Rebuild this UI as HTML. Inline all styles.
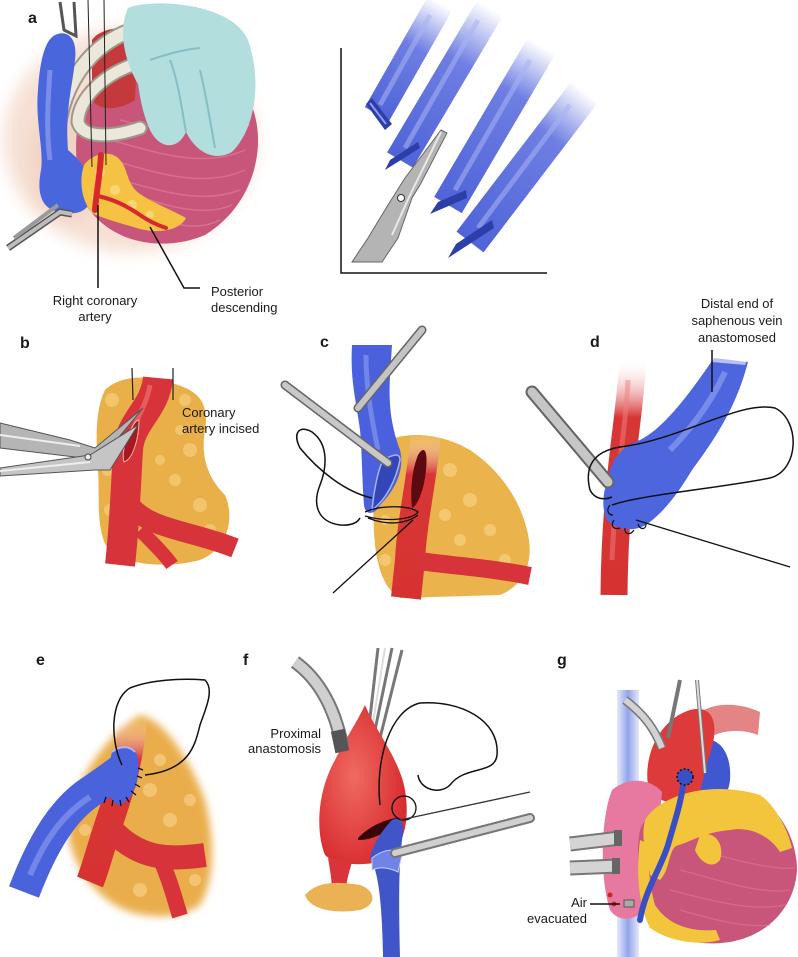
<!DOCTYPE html>
<html><head><meta charset="utf-8"><style>
html,body{margin:0;padding:0;background:#fff;}
svg{display:block;}
text{font-family:"Liberation Sans",Arial,sans-serif;fill:#1a1a1a;}
.lb{font-weight:bold;font-size:16px;}
.t{font-size:13px;}
</style></head><body>
<svg width="798" height="957" viewBox="0 0 798 957" xmlns="http://www.w3.org/2000/svg">
<defs>
<filter id="b8" x="-50%" y="-50%" width="200%" height="200%"><feGaussianBlur stdDeviation="8"/></filter>
<filter id="b4" x="-30%" y="-30%" width="160%" height="160%"><feGaussianBlur stdDeviation="4"/></filter>
<filter id="b2" x="-30%" y="-30%" width="160%" height="160%"><feGaussianBlur stdDeviation="2"/></filter>
<linearGradient id="v1" gradientUnits="userSpaceOnUse" x1="377" y1="114" x2="440" y2="3"><stop offset="0" stop-color="#5064d8"/><stop offset="0.6" stop-color="#6e7ee2"/><stop offset="1" stop-color="#fff"/></linearGradient>
<linearGradient id="v2" gradientUnits="userSpaceOnUse" x1="400" y1="160" x2="490" y2="8"><stop offset="0" stop-color="#5064d8"/><stop offset="0.65" stop-color="#6e7ee2"/><stop offset="1" stop-color="#fff"/></linearGradient>
<linearGradient id="v3" gradientUnits="userSpaceOnUse" x1="448" y1="205" x2="540" y2="45"><stop offset="0" stop-color="#5064d8"/><stop offset="0.7" stop-color="#6e7ee2"/><stop offset="1" stop-color="#fff"/></linearGradient>
<linearGradient id="v4" gradientUnits="userSpaceOnUse" x1="470" y1="242" x2="585" y2="92"><stop offset="0" stop-color="#5064d8"/><stop offset="0.7" stop-color="#6e7ee2"/><stop offset="1" stop-color="#fff"/></linearGradient>
<linearGradient id="fadeTopRed" x1="0" y1="0" x2="0" y2="1"><stop offset="0" stop-color="#fff" stop-opacity="0"/><stop offset="0.25" stop-color="#d83636"/><stop offset="1" stop-color="#d63232"/></linearGradient>
<linearGradient id="svc" x1="0" y1="0" x2="1" y2="0"><stop offset="0" stop-color="#dfe6fb"/><stop offset="0.5" stop-color="#7f94e6"/><stop offset="1" stop-color="#dfe6fb"/></linearGradient>
<radialGradient id="aoF" cx="0.4" cy="0.45" r="0.6"><stop offset="0" stop-color="#f06a62"/><stop offset="1" stop-color="#d72c30"/></radialGradient>
</defs>

<!-- ================= PANEL A ================= -->
<ellipse cx="130" cy="140" rx="126" ry="112" fill="#f6e0d4" filter="url(#b8)"/>
<ellipse cx="70" cy="160" rx="40" ry="60" fill="#efcbb9" filter="url(#b8)" opacity="0.6"/>
<!-- heart -->
<path d="M78 120 C88 68 190 50 240 85 C272 125 262 200 205 235 C165 252 112 245 86 205 C76 180 74 150 78 120Z" fill="#c8567a"/>
<g stroke="#e4809e" stroke-width="1.5" fill="none" opacity="0.6">
<path d="M110 140 C150 150 200 170 245 150"/><path d="M110 160 C150 170 200 190 245 170"/><path d="M120 180 C160 190 200 205 240 190"/><path d="M150 200 C180 210 210 215 232 205"/><path d="M120 120 C160 130 210 140 250 125"/><path d="M160 220 C185 228 205 228 220 220"/>
</g>
<!-- red behind -->
<path d="M92 40 C100 28 125 25 138 32 L135 100 C120 110 100 112 92 100 Z" fill="#c43a3c"/>
<!-- white tubes -->
<g fill="none" stroke-linecap="round">
<path d="M140 28 C90 40 55 90 57 152" stroke="#9d988a" stroke-width="17"/>
<path d="M140 28 C90 40 55 90 57 152" stroke="#ebe7db" stroke-width="13"/>
<path d="M142 62 C105 72 78 98 78 122 C82 138 110 138 140 128" stroke="#9d988a" stroke-width="15"/>
<path d="M142 62 C105 72 78 98 78 122 C82 138 110 138 140 128" stroke="#ebe7db" stroke-width="11"/>
</g>
<!-- forceps top -->
<path d="M60 2 L64 30 L76 36 L74 2" fill="none" stroke="#555" stroke-width="3"/>
<!-- blue vein a -->
<path d="M55 35 C65 30 78 35 75 60 C72 90 65 110 68 150 C80 160 92 172 90 200 C88 214 70 216 55 211 C40 206 37 190 41 170 C44 150 35 120 38 90 C40 60 45 40 55 35 Z" fill="#4a66dc"/>
<path d="M50 70 C48 100 46 130 50 160" stroke="#8da0f0" stroke-width="5" fill="none" opacity="0.7"/>
<!-- glove -->
<path d="M128 8 C150 -2 232 2 248 40 C262 80 256 128 232 152 C214 162 196 152 186 132 C178 150 160 150 150 130 C142 112 140 96 138 84 C124 60 118 30 128 8 Z" fill="#b3dede"/>
<g stroke="#86bfc2" stroke-width="2" fill="none">
<path d="M186 132 C182 110 178 80 170 60"/><path d="M215 148 C210 120 205 90 200 70"/><path d="M150 60 C165 55 180 50 200 48"/>
</g>
<!-- fat -->
<path d="M84 165 C94 152 112 150 120 160 C128 168 126 184 140 194 C155 204 172 210 186 218 C180 230 160 234 140 229 C120 223 104 219 92 213 C81 200 79 180 84 165 Z" fill="#f5c244"/>
<g fill="#fbdb80" opacity="0.8"><circle cx="100" cy="172" r="5"/><circle cx="115" cy="190" r="5"/><circle cx="132" cy="205" r="5"/><circle cx="150" cy="215" r="4"/><circle cx="96" cy="198" r="4"/></g>
<!-- RCA -->
<path d="M101 155 C100 175 96 195 95 210" stroke="#d8282c" stroke-width="6" fill="none" stroke-linecap="round"/>
<path d="M98 196 C115 200 125 205 140 215 C150 222 160 226 166 228" stroke="#d8282c" stroke-width="4" fill="none" stroke-linecap="round"/>
<!-- sutures -->
<path d="M88 0 L92 167 M104 0 L106 165" stroke="#222" stroke-width="1"/>
<!-- forceps bottom -->
<path d="M8 248 L60 212 L72 214" stroke="#555" stroke-width="7" fill="none"/>
<path d="M8 248 L60 212 L72 214" stroke="#bdbdbd" stroke-width="4" fill="none"/>
<path d="M14 238 L58 205" stroke="#9a9a9a" stroke-width="4" fill="none"/>
<!-- labels -->
<path d="M98 205 L98 288" stroke="#111" stroke-width="1.5"/>
<path d="M150 227 L184 288 L200 288" stroke="#111" stroke-width="1.5" fill="none"/>
<text class="lb" x="28" y="23">a</text>
<text class="t" x="95" y="305" text-anchor="middle">Right coronary</text>
<text class="t" x="95" y="321" text-anchor="middle">artery</text>
<text class="t" x="211" y="296">Posterior</text>
<text class="t" x="211" y="312">descending</text>

<!-- ================= PANEL TOP RIGHT ================= -->
<path d="M341 48 L341 273 L547 273" stroke="#111" stroke-width="1.5" fill="none"/>
<g fill="none" stroke-linecap="butt">
<path d="M377 114 L442 0" stroke="url(#v1)" stroke-width="28"/>
<path d="M400 160 L492 5" stroke="url(#v2)" stroke-width="30"/>
<path d="M448 205 L545 40" stroke="url(#v3)" stroke-width="32"/>
<path d="M470 242 L590 85" stroke="url(#v4)" stroke-width="34"/>
</g>
<g stroke="#aab4f4" stroke-width="5" fill="none" opacity="0.55">
<path d="M380 105 L430 15"/><path d="M405 148 L478 20"/><path d="M455 190 L530 60"/><path d="M478 228 L570 105"/>
</g>
<!-- cut ends -->
<path d="M366 104 L385 130 L392 124 L372 98 Z" fill="#2e3ea8"/>
<path d="M370 103 L386 124" stroke="#8e9cf0" stroke-width="2"/>
<path d="M385 170 L420 148 L418 142 L390 160 Z" fill="#2e3ea8"/>
<path d="M430 214 L467 198 L466 190 L438 202 Z" fill="#2e3ea8"/>
<path d="M448 258 L494 228 L492 220 L456 244 Z" fill="#2e3ea8"/>
<!-- scissors -->
<path d="M441 130 L447 133 L420 185 L412 198 L398 238 L382 262 L352 262 L368 238 L388 205 L405 178 Z" fill="#b4b4b4" stroke="#666" stroke-width="1"/>
<path d="M441 132 L410 195 L392 235" stroke="#e8e8e8" stroke-width="2" fill="none"/>
<circle cx="401" cy="198" r="3.5" fill="#fff" stroke="#333" stroke-width="1"/>

<!-- ================= PANEL B ================= -->
<path d="M105 390 C120 375 150 374 175 384 C195 390 210 400 205 430 C200 460 210 480 225 495 C236 520 226 550 200 560 C170 568 130 566 110 552 C95 532 100 500 98 470 C96 440 95 410 105 390 Z" fill="#e9b04a"/>
<g fill="#f6cd78" opacity="0.75">
<circle cx="112" cy="400" r="7"/><circle cx="125" cy="430" r="6"/><circle cx="108" cy="470" r="6"/><circle cx="110" cy="510" r="6"/><circle cx="185" cy="400" r="6"/><circle cx="190" cy="450" r="7"/><circle cx="175" cy="480" r="6"/><circle cx="200" cy="505" r="7"/><circle cx="180" cy="430" r="5"/><circle cx="210" cy="530" r="6"/><circle cx="160" cy="460" r="5"/>
</g>
<path d="M158 378 C155 410 130 420 128 450 C126 480 125 520 120 565" stroke="#d6333a" stroke-width="30" fill="none"/>
<path d="M130 505 C150 530 190 530 235 548" stroke="#d6333a" stroke-width="20" fill="none"/>
<path d="M140 530 C155 545 165 555 172 565" stroke="#d6333a" stroke-width="14" fill="none"/>
<path d="M150 385 C146 410 130 425 128 450" stroke="#f07878" stroke-width="5" fill="none" opacity="0.6"/>
<!-- incision -->
<path d="M128 438 C132 425 136 420 139 420 C139 440 132 460 124 462 C122 455 124 445 128 438 Z" fill="#a81820" stroke="#f6b0b0" stroke-width="1"/>
<!-- sutures -->
<path d="M132 368 L133 400 M173 368 L173 400" stroke="#222" stroke-width="1.2"/>
<!-- scissors b -->
<path d="M0 423 L70 440 L95 448 L143 408 L100 460 L0 448 Z" fill="#b5b5b5" stroke="#555" stroke-width="1"/>
<path d="M0 468 L90 455 L138 425 L110 470 L95 470 L0 476 Z" fill="#c5c5c5" stroke="#555" stroke-width="1"/>
<path d="M0 435 L80 446" stroke="#eee" stroke-width="2"/>
<path d="M0 471 L90 462" stroke="#eee" stroke-width="2"/>
<circle cx="88" cy="457" r="3" fill="#eee" stroke="#444" stroke-width="1"/>
<text class="lb" x="20" y="348">b</text>
<text class="t" x="182" y="417">Coronary</text>
<text class="t" x="182" y="433">artery incised</text>

<!-- ================= PANEL C ================= -->
<path d="M380 445 C400 430 440 432 470 450 C500 470 520 500 527 530 C535 560 525 585 500 595 L400 598 C385 590 378 570 375 545 C372 510 372 470 380 445 Z" fill="#ebb34c"/>
<g fill="#f7cf7c" opacity="0.75">
<circle cx="450" cy="470" r="7"/><circle cx="470" cy="500" r="7"/><circle cx="445" cy="515" r="6"/><circle cx="490" cy="530" r="6"/><circle cx="460" cy="540" r="6"/><circle cx="385" cy="560" r="6"/><circle cx="385" cy="520" r="5"/><circle cx="505" cy="560" r="6"/>
</g>
<path d="M426 433 C422 480 412 520 410 560 L406 598" stroke="url(#fadeTopRed)" stroke-width="30" fill="none"/>
<path d="M414 560 C440 565 480 566 530 576" stroke="#d6333a" stroke-width="18" fill="none"/>
<path d="M418 455 C424 445 428 450 426 470 C424 490 418 505 412 508 C410 490 412 470 418 455 Z" fill="#5a0a10"/>
<!-- blue vein c -->
<path d="M352 345 L392 345 C390 380 385 410 400 450 C405 470 395 490 380 505 C375 515 365 516 364 505 C362 480 362 450 360 430 C356 400 350 380 352 345 Z" fill="#4a60dc"/>
<path d="M366 355 C366 390 372 420 378 450" stroke="#8e9ff0" stroke-width="5" fill="none" opacity="0.6"/>
<path d="M383 460 C392 455 400 452 400 460 C396 480 386 500 372 510 C374 490 378 470 383 460 Z" fill="#3346b8" stroke="#a6b2f4" stroke-width="1.5"/>
<!-- forceps c -->
<path d="M422 330 L358 408" stroke="#666" stroke-width="9" stroke-linecap="round"/>
<path d="M422 330 L358 408" stroke="#c4c4c4" stroke-width="6" stroke-linecap="round"/>
<path d="M285 385 L388 463" stroke="#666" stroke-width="9" stroke-linecap="round"/>
<path d="M285 385 L388 463" stroke="#c8c8c8" stroke-width="6" stroke-linecap="round"/>
<!-- suture c -->
<path d="M372 498 C345 492 318 470 300 448 C292 432 300 425 312 432 C330 445 326 470 320 485 C312 505 318 522 340 525 C352 526 358 522 360 518" stroke="#111" stroke-width="1.5" fill="none"/>
<path d="M365 512 C380 505 410 505 418 512 C412 520 385 522 365 516 M368 518 C385 525 405 525 418 515" stroke="#111" stroke-width="1.3" fill="none"/>
<path d="M413 520 L333 593" stroke="#111" stroke-width="1.3"/>
<text class="lb" x="320" y="347">c</text>

<!-- ================= PANEL D ================= -->
<path d="M633 358 C630 420 615 480 614 595" stroke="url(#fadeTopRed)" stroke-width="27" fill="none"/>
<path d="M628 380 C626 430 615 480 612 560" stroke="#f08080" stroke-width="5" fill="none" opacity="0.5"/>
<path d="M714 358 L748 362 C738 400 722 430 692 470 C677 495 665 510 650 522 C638 532 618 532 607 520 C600 505 604 490 610 470 C615 455 625 445 640 440 C660 430 682 405 714 358 Z" fill="#4d66de"/>
<path d="M725 372 C712 400 695 425 670 450" stroke="#94a4f2" stroke-width="6" fill="none" opacity="0.6"/>
<path d="M700 352 L750 352 L745 365 L712 362 Z" fill="#fff" opacity="0.6"/>
<!-- stitches d -->
<g stroke="#111" stroke-width="1.2" fill="none">
<path d="M610 505 C606 510 608 515 613 515"/><path d="M614 520 C610 526 614 530 620 528"/><path d="M625 528 C624 534 630 536 634 530"/><path d="M638 524 C640 530 646 530 646 524"/>
</g>
<!-- forceps d -->
<path d="M532 392 L608 482" stroke="#666" stroke-width="13" stroke-linecap="round"/>
<path d="M532 392 L608 482" stroke="#c6c6c6" stroke-width="9" stroke-linecap="round"/>
<!-- suture d -->
<path d="M612 505 C640 495 720 488 770 478 C800 470 800 420 775 408 C740 400 680 440 620 447 C590 452 585 470 590 490 C595 500 605 500 612 497" stroke="#111" stroke-width="1.5" fill="none"/>
<path d="M636 520 L790 567" stroke="#111" stroke-width="1.3"/>
<path d="M712 350 L712 392" stroke="#111" stroke-width="1.5"/>
<text class="lb" x="590" y="347">d</text>
<text class="t" x="737" y="308" text-anchor="middle">Distal end of</text>
<text class="t" x="737" y="325" text-anchor="middle">saphenous vein</text>
<text class="t" x="737" y="342" text-anchor="middle">anastomosed</text>

<!-- ================= PANEL E ================= -->
<path d="M140 715 C165 720 190 760 205 800 C215 840 215 880 200 905 C180 920 140 920 115 905 C90 890 70 860 68 830 C70 790 100 740 140 715Z" fill="#eaad4c" filter="url(#b4)"/>
<g fill="#f6cf86" opacity="0.7">
<circle cx="150" cy="790" r="7"/><circle cx="170" cy="820" r="7"/><circle cx="190" cy="800" r="6"/><circle cx="160" cy="760" r="6"/><circle cx="85" cy="830" r="6"/><circle cx="100" cy="800" r="6"/><circle cx="140" cy="890" r="7"/><circle cx="195" cy="880" r="6"/>
</g>
<path d="M133 718 C130 760 120 790 110 820 C100 850 95 870 90 882" stroke="url(#fadeTopRed)" stroke-width="28" fill="none"/>
<path d="M112 830 C140 860 170 860 205 855" stroke="#d6333a" stroke-width="24" fill="none"/>
<path d="M160 858 C170 880 175 900 180 916" stroke="#d6333a" stroke-width="16" fill="none"/>
<path d="M24 892 C40 850 60 812 90 792 C105 782 118 772 128 765" stroke="#4a62dc" stroke-width="32" fill="none"/>
<path d="M30 875 C45 840 62 815 90 797" stroke="#8fa0f0" stroke-width="6" fill="none" opacity="0.6"/>
<path d="M112 752 C125 745 138 748 138 760 C140 780 135 800 118 805 C108 800 105 780 112 752 Z" fill="#4a62dc"/>
<path d="M112 752 C120 745 130 746 135 752" stroke="#a9b6f6" stroke-width="2" fill="none"/>
<g stroke="#111" stroke-width="1.3"><path d="M138 768 L143 770 M137 776 L142 778 M135 784 L140 787 M131 791 L136 795 M126 797 L129 802 M120 800 L121 806 M113 800 L112 806 M106 797 L104 803"/></g>
<path d="M122 765 C110 740 110 700 130 688 C150 680 180 678 205 680 C215 690 205 710 200 725 C195 745 190 770 145 775" stroke="#111" stroke-width="1.5" fill="none"/>
<text class="lb" x="36" y="665">e</text>

<!-- ================= PANEL F ================= -->
<path d="M378 648 L368 735 M392 648 L374 735 M402 650 L380 738" stroke="#777" stroke-width="3"/>
<path d="M385 648 L371 735" stroke="#ddd" stroke-width="2"/>
<path d="M365 705 C375 730 400 760 405 790 C410 820 405 850 380 862 C360 866 335 865 325 855 C315 830 318 790 335 760 C345 740 358 720 365 705 Z" fill="url(#aoF)"/>
<path d="M328 858 C330 870 332 880 332 892 L346 892 C346 880 350 870 352 862 Z" fill="#d8343a"/>
<path d="M305 895 C318 880 340 882 360 885 C375 890 378 905 360 910 C335 914 310 910 305 895 Z" fill="#eab155"/>
<path d="M295 662 C320 680 335 710 342 745" stroke="#777" stroke-width="14" fill="none"/>
<path d="M295 662 C320 680 335 710 342 745" stroke="#cfcfcf" stroke-width="10" fill="none"/>
<rect x="333" y="730" width="14" height="22" fill="#555" transform="rotate(-12 340 741)"/>
<path d="M358 838 C370 825 390 818 398 818 C392 830 375 840 358 840 Z" fill="#3a0508"/>
<path d="M392 820 C402 815 405 825 402 840 C400 860 398 880 400 957 L383 957 C382 900 378 870 370 858 C372 845 384 828 392 820 Z" fill="#3f55c8"/>
<path d="M372 858 C385 848 398 848 402 855 L398 872 C390 868 380 866 372 870 Z" fill="#6f84e6" stroke="#c6cff8" stroke-width="1"/>
<path d="M380 805 C375 760 390 710 420 703 C460 700 500 720 497 755 C495 775 465 765 450 785 C440 795 420 790 418 775" stroke="#111" stroke-width="1.5" fill="none"/>
<circle cx="404" cy="808" r="12" stroke="#111" stroke-width="1.3" fill="none"/>
<path d="M400 820 L530 792" stroke="#333" stroke-width="1.3"/>
<path d="M395 853 L530 818" stroke="#777" stroke-width="10" stroke-linecap="round"/>
<path d="M395 853 L530 818" stroke="#d0d0d0" stroke-width="6" stroke-linecap="round"/>
<text class="lb" x="243" y="665">f</text>
<text class="t" x="321" y="738" text-anchor="end">Proximal</text>
<text class="t" x="321" y="753" text-anchor="end">anastomosis</text>

<!-- ================= PANEL G ================= -->
<rect x="617" y="690" width="22" height="267" fill="url(#svc)" opacity="0.85"/>
<path d="M700 712 C720 700 745 705 760 712 L758 735 C740 728 720 730 705 740 Z" fill="#d85050" opacity="0.7"/>
<path d="M700 740 C720 735 732 755 730 780 C728 800 715 810 700 808 Z" fill="#3f58d0"/>
<path d="M650 795 C640 760 658 720 690 710 C712 704 722 722 708 760 C702 780 700 800 690 812 Z" fill="#dd3a3c"/>
<path d="M625 700 C645 715 655 730 662 748" stroke="#777" stroke-width="9" fill="none"/>
<path d="M625 700 C645 715 655 730 662 748" stroke="#d2d2d2" stroke-width="6" fill="none"/>
<path d="M680 680 L668 738 M697 680 L705 773" stroke="#777" stroke-width="4"/>
<path d="M697 680 L705 773" stroke="#ddd" stroke-width="2"/>
<path d="M612 790 C630 775 652 780 662 792 L652 900 C642 920 620 925 610 910 C600 880 600 820 612 790 Z" fill="#e779a0"/>
<path d="M725 795 C745 790 760 810 765 840 L740 840 Z" fill="#e779a0"/>
<path d="M640 830 C650 800 700 785 750 795 C780 805 797 840 797 870 C795 905 770 935 730 942 C690 948 655 935 645 905 C638 880 636 850 640 830 Z" fill="#c8567a"/>
<g stroke="#e17c9a" stroke-width="1.3" fill="none" opacity="0.55">
<path d="M680 870 C720 880 760 895 790 890"/><path d="M670 890 C710 900 750 912 785 905"/><path d="M680 910 C715 920 745 928 770 925"/><path d="M700 850 C735 860 770 870 795 868"/>
</g>
<path d="M645 820 C660 795 710 780 760 795 C775 805 788 830 792 848 L780 852 C770 836 750 826 730 830 C705 832 690 842 676 846 C668 852 670 870 660 880 L650 875 C648 860 640 840 645 820 Z" fill="#f3c53c"/>
<path d="M700 835 C715 830 725 845 720 860 C712 870 700 862 695 850 Z" fill="#f3c53c"/>
<path d="M640 840 C636 870 638 905 650 928 C670 942 700 946 720 940 L716 930 C690 932 668 925 655 905 C648 880 648 860 650 845 Z" fill="#f3c53c"/>
<path d="M684 778 C682 800 675 820 668 845 C660 870 645 890 640 920" stroke="#3a4fc4" stroke-width="6" fill="none" stroke-linecap="round"/>
<circle cx="685" cy="777" r="8" fill="#3a4fc4" stroke="#111" stroke-width="1.5" stroke-dasharray="2 2"/>
<path d="M570 844 L620 838" stroke="#777" stroke-width="15"/>
<path d="M570 844 L620 838" stroke="#d4d4d4" stroke-width="11"/>
<path d="M570 868 L618 866" stroke="#777" stroke-width="15"/>
<path d="M570 868 L618 866" stroke="#d4d4d4" stroke-width="11"/>
<rect x="614" y="830" width="8" height="16" fill="#666"/><rect x="612" y="858" width="8" height="16" fill="#666"/>
<circle cx="610" cy="895" r="2.5" fill="#c62828"/><circle cx="614" cy="904" r="2.5" fill="#c62828"/>
<rect x="624" y="900" width="10" height="7" fill="#aaa" stroke="#555" stroke-width="1"/>
<path d="M590 904 L620 904" stroke="#111" stroke-width="1.5"/>
<text class="lb" x="557" y="665">g</text>
<text class="t" x="587" y="907" text-anchor="end">Air</text>
<text class="t" x="587" y="923" text-anchor="end">evacuated</text>
</svg>
</body></html>
